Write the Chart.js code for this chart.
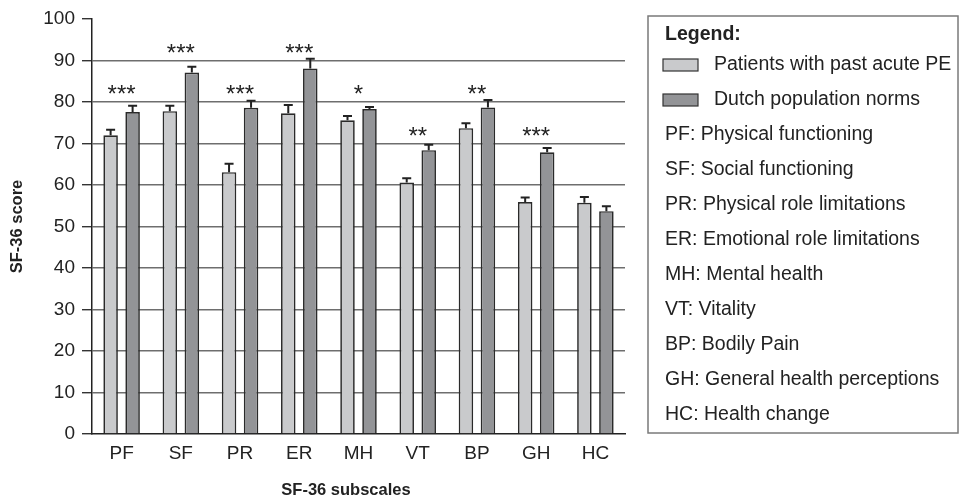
<!DOCTYPE html>
<html>
<head>
<meta charset="utf-8">
<script src="https://cdn.jsdelivr.net/npm/chart.js@4/dist/chart.umd.min.js"></script>
<style>
  html, body { margin: 0; padding: 0; background: #fff; }
  #wrap { width: 959px; height: 499px; position: relative; }
</style>
</head>
<body>
<div id="wrap"><canvas id="myChart" width="959" height="499"></canvas></div>
<script>
// data
const subscales = ['PF', 'SF', 'PR', 'ER', 'MH', 'VT', 'BP', 'GH', 'HC'];
const patients = [72.0, 77.8, 63.1, 77.3, 75.6, 60.6, 73.7, 55.9, 55.7];
const patientsErr = [1.3, 1.3, 2.0, 2.0, 1.0, 1.0, 1.2, 1.1, 1.4];
const norms = [77.6, 87.1, 78.6, 88.1, 78.3, 68.4, 78.7, 67.9, 53.7];
const normsErr = [1.5, 1.4, 1.7, 2.3, 0.5, 1.3, 1.8, 1.0, 1.2];
const significance = ['***', '***', '***', '***', '*', '**', '**', '***', ''];
const yTicks = [0, 10, 20, 30, 40, 50, 60, 70, 80, 90, 100];
const seriesNames = ['Patients with past acute PE', 'Dutch population norms'];
const abbreviations = [
  'PF: Physical functioning',
  'SF: Social functioning',
  'PR: Physical role limitations',
  'ER: Emotional role limitations',
  'MH: Mental health',
  'VT: Vitality',
  'BP: Bodily Pain',
  'GH: General health perceptions',
  'HC: Health change'
];
const xTitle = 'SF-36 subscales';
const yTitle = 'SF-36 score';

const FONT = '"Liberation Sans", Arial, Helvetica, sans-serif';
const lightFill = '#c9cacc';
const darkFill = '#939497';
const ink = '#222';

// error bars (upper only) + significance stars
const errorBars = {
  id: 'errorBars',
  afterDatasetsDraw(chart) {
    const ctx = chart.ctx;
    const y = chart.scales.y;
    const errs = [patientsErr, normsErr];
    ctx.save();
    ctx.strokeStyle = ink;
    ctx.lineWidth = 2;
    chart.data.datasets.forEach((ds, di) => {
      const meta = chart.getDatasetMeta(di);
      meta.data.forEach((bar, i) => {
        const top = y.getPixelForValue(ds.data[i] + errs[di][i]);
        ctx.beginPath();
        ctx.moveTo(bar.x, bar.y);
        ctx.lineTo(bar.x, top);
        ctx.moveTo(bar.x - 4.5, top);
        ctx.lineTo(bar.x + 4.5, top);
        ctx.stroke();
      });
    });
    // stars
    ctx.fillStyle = ink;
    ctx.font = '24px ' + FONT;
    ctx.textAlign = 'center';
    ctx.textBaseline = 'alphabetic';
    const x = chart.scales.x;
    significance.forEach((s, i) => {
      if (!s) return;
      const hi = Math.max(patients[i] + patientsErr[i], norms[i] + normsErr[i]);
      const level = Math.round(hi / 10) * 10 + 3.3;
      const cy = y.getPixelForValue(level);
      ctx.fillText(s, x.getPixelForValue(i), cy + 14);
    });
    // x axis title
    ctx.font = 'bold 16.5px ' + FONT;
    ctx.textBaseline = 'middle';
    ctx.fillText(xTitle, 346, 490);
    ctx.restore();
  }
};

// boxed legend on the right
const boxLegend = {
  id: 'boxLegend',
  afterDraw(chart) {
    const ctx = chart.ctx;
    const bx = 648, by = 16, bw = 310, bh = 417;
    ctx.save();
    ctx.strokeStyle = '#7a7a7a';
    ctx.lineWidth = 1.5;
    ctx.strokeRect(bx, by, bw, bh);
    ctx.fillStyle = ink;
    ctx.textBaseline = 'middle';
    ctx.textAlign = 'left';
    ctx.font = 'bold 19.5px ' + FONT;
    ctx.fillText('Legend:', 665, 35);
    ctx.font = '19.5px ' + FONT;
    const fills = [lightFill, darkFill];
    seriesNames.forEach((name, i) => {
      const cy = 65 + 35 * i;
      ctx.fillStyle = fills[i];
      ctx.fillRect(663, cy - 6, 35, 12);
      ctx.strokeStyle = '#333';
      ctx.lineWidth = 1.2;
      ctx.strokeRect(663, cy - 6, 35, 12);
      ctx.fillStyle = ink;
      ctx.fillText(name, 714, cy);
    });
    abbreviations.forEach((txt, i) => {
      ctx.fillText(txt, 665, 65 + 35 * (i + 2));
    });
    ctx.restore();
  }
};

const ctx = document.getElementById('myChart').getContext('2d');
const chart = new Chart(ctx, {
  type: 'bar',
  data: {
    labels: subscales,
    datasets: [
      {
        label: seriesNames[0],
        data: patients,
        backgroundColor: lightFill,
        borderColor: '#2a2a2a',
        borderWidth: 1.7,
        borderSkipped: 'bottom'
      },
      {
        label: seriesNames[1],
        data: norms,
        backgroundColor: darkFill,
        borderColor: '#2a2a2a',
        borderWidth: 1.7,
        borderSkipped: 'bottom'
      }
    ]
  },
  options: {
    responsive: false,
    animation: false,
    devicePixelRatio: 1,
    layout: { padding: { left: 0, top: 19, right: 334, bottom: 0 } },
    datasets: { bar: { categoryPercentage: 0.743, barPercentage: 0.66 } },
    plugins: { legend: { display: false }, tooltip: { enabled: false } },
    scales: {
      x: {
        grid: { display: false, drawTicks: false },
        border: { display: true, color: '#222', width: 1.5 },
        ticks: { color: ink, font: { family: FONT, size: 19 }, padding: 8 },
        afterFit(scale) { scale.height = 65; }
      },
      y: {
        min: 0,
        max: 100,
        afterBuildTicks(scale) { scale.ticks = yTicks.map(v => ({ value: v })); },
        grid: {
          color(c) { return (c.tick && (c.tick.value === 100 || c.tick.value === 0)) ? 'rgba(0,0,0,0)' : '#6e6e6e'; },
          lineWidth: 1.4,
          tickColor: '#333',
          tickLength: 10
        },
        border: { display: true, color: '#222', width: 1.5 },
        ticks: { color: ink, font: { family: FONT, size: 19 }, padding: 7 },
        title: {
          display: true,
          text: yTitle,
          color: ink,
          font: { family: FONT, size: 16.5, weight: 'bold' },
          padding: { top: 8, bottom: 0 }
        },
        afterFit(scale) { scale.width = 92; }
      }
    }
  },
  plugins: [errorBars, boxLegend]
});
</script>
</body>
</html>
